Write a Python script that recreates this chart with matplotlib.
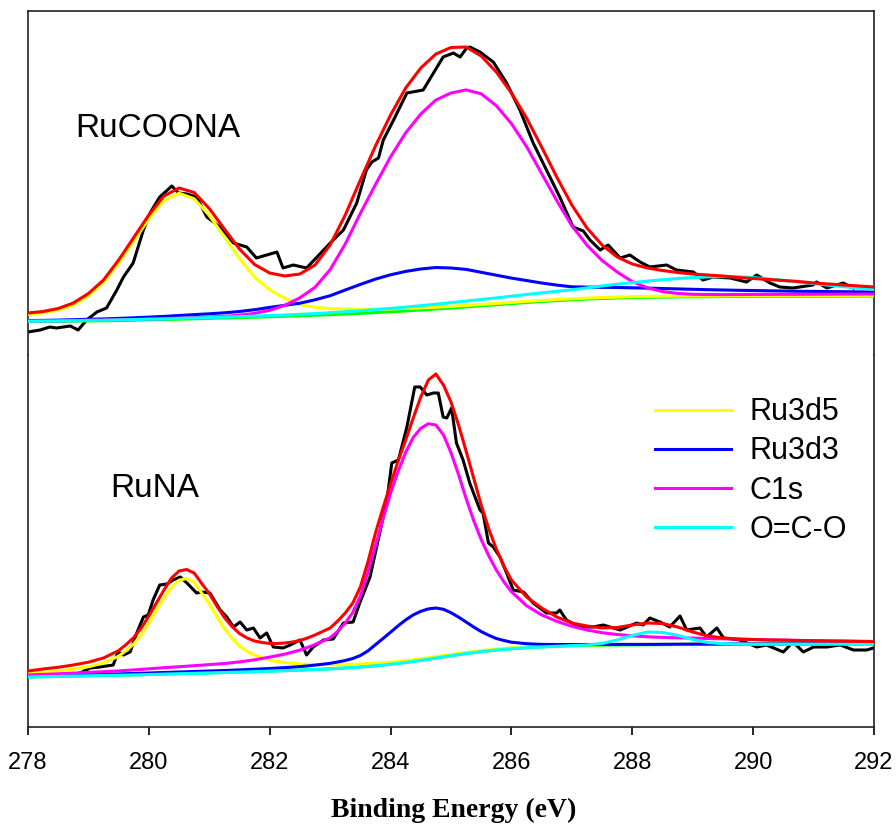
import matplotlib
matplotlib.use('Agg')
import matplotlib.pyplot as plt
import numpy as np

plt.rcParams['font.family'] = 'Liberation Sans'

LW = 2.2

# binding energy grids of the fitted curves (eV); the RuNA peaks are narrow,
# so that panel is sampled twice as densely between 279.5 and 286 eV
top_fit_ev = np.arange(278, 292.01, 0.25)
bot_fit_ev = np.concatenate([np.arange(278, 279.4, 0.25),
                             np.arange(279.5, 286.01, 0.125),
                             np.arange(286.25, 292.01, 0.25)])

# ---- RuCOONA ----
top_raw_ev = [278.00, 278.20, 278.36, 278.47, 278.70, 278.83, 278.97, 279.14, 279.30, 279.47,
              279.58, 279.74, 279.91, 280.02, 280.18, 280.38, 280.49, 280.63, 280.79, 280.96,
              281.07, 281.23, 281.40, 281.62, 281.78, 281.95, 282.12, 282.22, 282.39, 282.61,
              282.83, 283.05, 283.22, 283.44, 283.60, 283.69, 283.80, 283.88, 284.05, 284.27,
              284.54, 284.71, 284.87, 285.04, 285.15, 285.26, 285.31, 285.48, 285.70, 285.92,
              286.14, 286.36, 286.58, 286.80, 287.02, 287.19, 287.30, 287.47, 287.60, 287.80,
              287.96, 288.13, 288.29, 288.57, 288.73, 289.01, 289.17, 289.34, 289.62, 289.89,
              290.06, 290.28, 290.44, 290.66, 290.99, 291.05, 291.22, 291.49, 291.66]
top_raw = [23, 25, 28, 27, 29, 25, 35, 43, 47, 65,
           78, 92, 125, 142, 158, 169, 162, 161, 158, 138,
           133, 125, 112, 108, 97, 100, 103, 87, 90, 87,
           101, 115, 125, 152, 185, 193, 197, 215, 235, 262,
           265, 282, 298, 302, 298, 307, 308, 303, 293, 272,
           245, 212, 185, 158, 128, 124, 115, 105, 110, 97,
           100, 93, 88, 90, 85, 83, 75, 78, 77, 73,
           80, 72, 68, 67, 70, 73, 67, 72, 67]
top_bg = [33.5, 33.6, 33.7, 33.9, 34.1, 34.3, 34.5, 34.8, 35.1, 35.4,
          35.8, 36.2, 36.6, 37.0, 37.4, 37.8, 38.2, 38.7, 39.2, 39.7,
          40.3, 41.0, 41.6, 42.4, 43.2, 44.1, 45.0, 46.0, 47.0, 48.1,
          49.2, 50.3, 51.4, 52.5, 53.5, 54.4, 55.2, 55.9, 56.5, 57.0,
          57.4, 57.7, 57.9, 58.1, 58.2, 58.3, 58.4, 58.5, 58.6, 58.6,
          58.7, 58.7, 58.8, 58.8, 58.9, 58.9, 59.0]
top_ru3d5 = [7, 8.5, 11, 16, 25, 38, 57, 79, 101, 119,
             126, 120, 103, 81, 59, 40, 27, 18, 11, 8,
             6, 5, 4, 3.4, 2.9, 2.5, 2.1, 1.8, 1.6, 1.5,
             1.4, 1.3, 1.2, 1.2, 1.1, 1.1, 1.0, 1.0, 1.0, 0.9,
             0.9, 0.9, 0.9, 0.8, 0.8, 0.8, 0.8, 0.8, 0.7, 0.7,
             0.7, 0.7, 0.7, 0.7, 0.7, 0.7, 0.7]
top_ru3d3 = [1, 1, 1.2, 1.4, 1.6, 1.8, 2.1, 2.4, 2.8, 3.2,
             3.7, 4.2, 4.6, 5.2, 6.1, 7.5, 9.4, 11, 12.6, 15.5,
             19, 24, 29, 33.5, 37, 39.5, 41, 41.5, 40, 37.5,
             33.5, 29.5, 25.5, 22, 18.5, 15.5, 13, 12, 11.2, 10.5,
             9.8, 9.2, 8.6, 8, 7.5, 7, 6.6, 6.2, 5.9, 5.6,
             5.3, 5.0, 4.8, 4.6, 4.4, 4.2, 4]
top_c1s = [0.5, 0.5, 0.5, 0.5, 0.6, 0.6, 0.7, 0.7, 0.8, 0.9,
           1.0, 1.1, 1.3, 1.6, 2.4, 3.8, 6.5, 11, 18, 28,
           45, 70, 100, 128, 155, 178, 196, 209, 215, 217,
           212, 199, 180, 156, 128, 100, 74, 54, 38, 26,
           16, 9.5, 5.5, 3.5, 2.5, 2.2, 2.0, 2.0, 2.0, 2.0,
           2.0, 2.0, 2.0, 2.0, 2.0, 2.0, 2.0]
top_oco = [0.3, 0.3, 0.4, 0.4, 0.5, 0.5, 0.6, 0.6, 0.7, 0.7,
           0.8, 0.8, 0.9, 0.9, 1.0, 1.1, 1.2, 1.3, 1.5, 1.7,
           2.0, 2.3, 2.6, 3.0, 3.4, 3.8, 4.3, 4.8, 5.3, 5.8,
           6.3, 6.8, 7.4, 8.0, 8.6, 9.3, 10.0, 11.2, 12.5, 13.8,
           15.0, 16.2, 17.4, 18.4, 19.2, 19.8, 20.0, 19.7, 18.8, 17.5,
           16.0, 14.3, 12.6, 11.0, 9.4, 7.9, 6.5]
top_env = [42, 43.5, 46.5, 52, 61.5, 75, 95, 117.5, 140, 159,
           167, 162.5, 146.5, 126, 106, 90.5, 82, 79, 81, 90,
           110, 140, 175, 209, 240, 267, 287, 301, 307.5, 308,
           299, 283, 262, 237, 208, 178, 150, 127, 110, 98,
           91, 87, 84.5, 82.5, 81, 80, 79, 77.5, 76.5, 75.5,
           74.5, 73.5, 72, 71, 70, 69, 68]

# ---- RuNA ----
bot_raw_ev = [278.86, 279.03, 279.19, 279.41, 279.49, 279.58, 279.69, 279.80, 279.91, 279.99,
              280.07, 280.18, 280.30, 280.40, 280.52, 280.63, 280.79, 280.87, 281.01, 281.18,
              281.29, 281.40, 281.51, 281.62, 281.73, 281.84, 281.95, 282.06, 282.22, 282.34,
              282.50, 282.61, 282.72, 282.89, 283.05, 283.22, 283.38, 283.49, 283.66, 283.82,
              283.94, 284.02, 284.13, 284.27, 284.40, 284.49, 284.60, 284.71, 284.79, 284.87,
              284.93, 285.01, 285.09, 285.20, 285.31, 285.48, 285.53, 285.62, 285.70, 285.81,
              285.92, 286.03, 286.20, 286.36, 286.58, 286.75, 286.80, 286.91, 287.13, 287.35,
              287.52, 287.63, 287.80, 288.07, 288.18, 288.29, 288.46, 288.62, 288.79, 288.90,
              289.12, 289.23, 289.40, 289.51, 289.78, 290.06, 290.22, 290.50, 290.66, 290.83,
              291.00, 291.22, 291.44, 291.66, 291.88, 291.99]
bot_raw = [54, 59, 60, 62, 75, 72, 75, 94, 110, 112,
           127, 142, 143, 147, 150, 144, 134, 135, 134, 117,
           110, 100, 105, 97, 99, 89, 94, 80, 79, 82,
           87, 72, 80, 87, 88, 104, 105, 124, 150, 194,
           227, 264, 267, 300, 340, 340, 332, 334, 334, 310,
           309, 319, 284, 267, 244, 217, 214, 184, 180, 170,
           154, 137, 135, 124, 114, 114, 117, 107, 100, 100,
           102, 100, 97, 104, 102, 109, 105, 100, 111, 97,
           99, 90, 99, 89, 87, 80, 82, 75, 85, 75,
           80, 80, 82, 77, 77, 79]
bot_bg = [50.0, 50.3, 50.6, 50.9, 51.2, 51.5,
          51.8, 51.95, 52.1, 52.3, 52.5, 52.7, 52.9, 53.1, 53.3, 53.5,
          53.7, 53.9, 54.1, 54.3, 54.5, 54.7, 54.9, 55.15, 55.4, 55.65,
          55.9, 56.15, 56.4, 56.65, 56.9, 57.2, 57.5, 57.85, 58.2, 58.6,
          59.0, 59.5, 60.0, 60.6, 61.3, 62.0, 62.8, 63.7, 64.6, 65.6,
          66.7, 67.8, 69.0, 70.2, 71.3, 72.4, 73.5, 74.5, 75.4, 76.2,
          77.0, 77.7, 78.3,
          79.3, 80.1, 80.7, 81.2, 81.5, 81.8, 82.0, 82.1, 82.2, 82.3, 82.4, 82.5,
          82.5, 82.6, 82.6, 82.7, 82.7, 82.8, 82.8, 82.9, 82.9, 83.0, 83.0, 83.0]
bot_ru3d5 = [4, 4.5, 5.5, 7, 9, 12.5,
             19, 24.5, 31, 40, 51, 64, 76, 87, 93.5, 95,
             91, 80, 69, 56, 44, 34, 26, 20.5, 16.5, 13.5,
             11, 9.3, 8, 7, 6, 5.5, 5, 4.5, 4, 3.7,
             3.5, 3.2, 3, 2.7, 2.5, 2.2, 2, 1.9, 1.8, 1.7,
             1.6, 1.5, 1.4, 1.3, 1.2, 1.15, 1.1, 1.05, 1.0, 0.95,
             0.9, 0.85, 0.8,
             0.8, 0.7, 0.7, 0.7, 0.6, 0.6, 0.6, 0.6, 0.5, 0.5, 0.5, 0.5,
             0.5, 0.5, 0.5, 0.5, 0.5, 0.5, 0.5, 0.5, 0.5, 0.5, 0.5, 0.5]
bot_ru3d3 = [1, 1, 1, 1.1, 1.2, 1.2,
             1.3, 1.35, 1.4, 1.45, 1.5, 1.55, 1.6, 1.65, 1.7, 1.75,
             1.8, 1.85, 1.9, 1.95, 2.0, 2.1, 2.2, 2.3, 2.4, 2.5,
             2.6, 2.8, 3.0, 3.2, 3.5, 3.9, 4.4, 4.9, 5.5, 6.4,
             7.5, 9, 11.5, 15.5, 21, 26.5, 32, 37.5, 42.5, 46.5,
             49, 50.3, 50, 47.5, 43, 37.5, 31.5, 25.5, 20, 15.5,
             11.5, 8.8, 6.5,
             4, 2.5, 1.8, 1.3, 1.0, 0.8, 0.6, 0.5, 0.4, 0.4, 0.4, 0.4,
             0.4, 0.4, 0.4, 0.4, 0.4, 0.4, 0.4, 0.4, 0.4, 0.4, 0.4, 0.4]
bot_c1s = [2, 2.3, 2.6, 3, 3.4, 3.8,
           4.3, 4.65, 5, 5.35, 5.7, 6.05, 6.4, 6.7, 7, 7.3,
           7.6, 7.95, 8.3, 8.65, 9, 9.6, 10.2, 11, 11.8, 12.9,
           14, 15.2, 16.5, 18.2, 20, 22.3, 25, 28, 31, 37,
           45, 55, 71, 94, 120, 146, 171, 192, 210, 224,
           232, 235.5, 233, 222, 203, 180, 155, 132, 112, 95,
           80, 67.5, 57,
           42, 32, 25, 19.5, 15.5, 12.5, 10.5, 9, 8, 7.3, 6.8, 6.4,
           6.0, 5.6, 5.2, 4.8, 4.4, 4.1, 3.8, 3.5, 3.2, 3.0, 2.7, 2.5]
bot_oco = [0] * 62 + [0.2, 0.5, 1.8, 5, 9.5, 12.8, 12.2, 9.3, 5, 2, 0.7, 0.2,
                      0, 0, 0, 0, 0, 0, 0, 0, 0]
bot_env = [56, 58, 59.7, 62, 64.8, 69,
           76.4, 82.5, 89.5, 99, 111, 124, 137, 149, 156, 157.5,
           154, 143.5, 133.5, 121, 109.5, 100.5, 93.5, 89, 86, 84.5,
           83.5, 83.5, 84, 85, 86.5, 89, 92, 95.5, 99, 106,
           114, 124, 140, 165, 194, 219, 243, 266, 287, 309,
           330, 347, 353, 342, 325, 302, 276, 249, 222, 198,
           178, 161, 147,
           130, 119, 110, 104, 101, 99, 99.5, 102, 104, 103.5, 100, 95,
           91, 89, 88, 87.5, 87, 86.8, 86.5, 86.2, 86, 85.8, 85.6, 85.4]

labels = ['Ru3d5', 'Ru3d3', 'C1s', 'O=C-O']
colors = ['#ffff00', '#0000ff', '#ff00ff', '#00ffff']


def draw_panel(ax, fit_ev, raw_ev, raw, bg, peaks, env, name, name_pos):
    bg = np.array(bg)
    ax.plot(raw_ev, raw, color='black', lw=LW, zorder=2)
    ax.plot(fit_ev, bg, color='#00ff00', lw=LW, zorder=3)
    for peak, lab, col in zip(peaks, labels, colors):
        ax.plot(fit_ev, bg + np.array(peak), color=col, lw=LW, label=lab, zorder=4)
    ax.plot(fit_ev, env, color='#ff0000', lw=LW, zorder=6)
    ax.text(name_pos[0], name_pos[1], name, fontsize=24, va='baseline', ha='left')
    ax.set_xlim(278, 292)
    ax.set_yticks([])
    for s in ax.spines.values():
        s.set_linewidth(1.2)
        s.set_color('#222222')


fig = plt.figure(figsize=(8.96, 8.26), dpi=100)
ax_top = fig.add_axes([28 / 896, 1 - 355 / 826, 846 / 896, 344 / 826])
ax_bot = fig.add_axes([28 / 896, 1 - 727 / 826, 846 / 896, 372 / 826])

draw_panel(ax_top, top_fit_ev, top_raw_ev, top_raw, top_bg,
           [top_ru3d5, top_ru3d3, top_c1s, top_oco], top_env, 'RuCOONA', (278.78, 218))
draw_panel(ax_bot, bot_fit_ev, bot_raw_ev, bot_raw, bot_bg,
           [bot_ru3d5, bot_ru3d3, bot_c1s, bot_oco], bot_env, 'RuNA', (279.36, 230))

ax_top.set_ylim(0, 344)
ax_top.spines['bottom'].set_visible(False)
ax_top.set_xticks([])

ax_bot.set_ylim(0, 372)
ax_bot.spines['top'].set_visible(False)
ax_bot.set_xticks(range(278, 293, 2))
ax_bot.tick_params(axis='x', direction='out', length=6, width=1.2, labelsize=17, pad=12)

ax_bot.legend(loc='center left', bbox_to_anchor=(0.741, 0.688), frameon=False,
              fontsize=22, handlelength=2.5, handletextpad=0.6, labelspacing=0.3,
              borderpad=0, borderaxespad=0)

fig.text(0.506, 0.019, 'Binding Energy (eV)', family='Liberation Serif', weight='bold',
         fontsize=20, ha='center', va='center')

fig.savefig('out.png', dpi=100)
